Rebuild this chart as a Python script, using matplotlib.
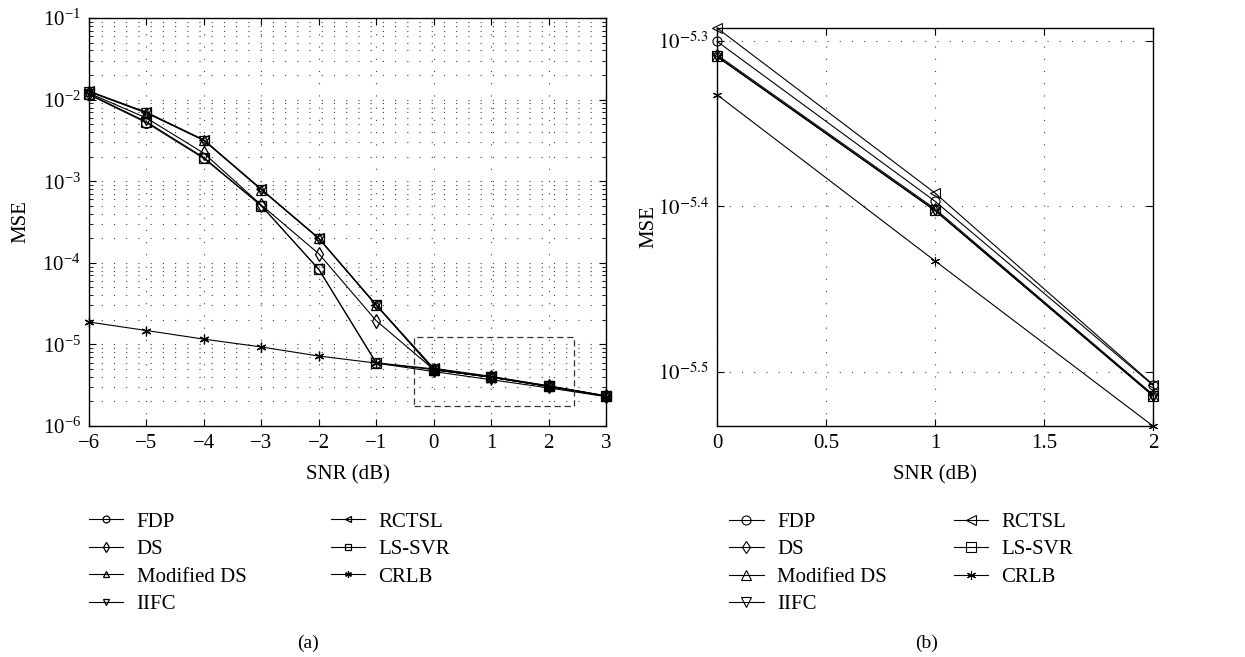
import matplotlib
matplotlib.use("Agg")
import matplotlib.pyplot as plt
import numpy as np

plt.rcParams["font.family"] = ["Liberation Serif", "DejaVu Serif"]
plt.rcParams["mathtext.fontset"] = "stix"
plt.rcParams["font.size"] = 15

# ── Data (MSE vs SNR) ───────────────────────────────────────────────────────
snr = [-6, -5, -4, -3, -2, -1, 0, 1, 2, 3]

fdp      = [1.15e-2, 5.2e-3, 1.9e-3, 5.0e-4, 8.3e-5, 5.95e-6, 5.007e-6, 4.009e-6, 3.104e-6, 2.34e-6]
ds       = [1.20e-2, 5.95e-3, 2.2e-3, 5.1e-4, 1.29e-4, 1.95e-5, 4.914e-6, 3.967e-6, 3.064e-6, 2.32e-6]
mod_ds   = [1.26e-2, 6.9e-3, 3.2e-3, 7.9e-4, 2.0e-4, 3.04e-5, 4.903e-6, 3.958e-6, 3.059e-6, 2.32e-6]
iifc     = [1.25e-2, 6.85e-3, 3.15e-3, 7.85e-4, 1.98e-4, 3.0e-5, 4.903e-6, 3.958e-6, 3.059e-6, 2.32e-6]
rctsl    = [1.27e-2, 7.0e-3, 3.2e-3, 8.0e-4, 2.0e-4, 3.05e-5, 5.101e-6, 4.055e-6, 3.107e-6, 2.34e-6]
ls_svr   = [1.17e-2, 5.35e-3, 1.95e-3, 5.0e-4, 8.3e-5, 5.9e-6, 4.903e-6, 3.958e-6, 3.059e-6, 2.32e-6]
crlb     = [1.88e-5, 1.48e-5, 1.16e-5, 9.3e-6, 7.2e-6, 5.9e-6, 4.649e-6, 3.690e-6, 2.933e-6, 2.29e-6]

series = [
    ("FDP",         fdp,    "o"),
    ("DS",          ds,     "d"),
    ("Modified DS", mod_ds, "^"),
    ("IIFC",        iifc,   "v"),
    ("RCTSL",       rctsl,  "<"),
    ("LS-SVR",      ls_svr, "s"),
    ("CRLB",        crlb,   (6, 2, 0)),
]

# zoomed region marked on panel (a)
zoom_box_x = [-0.35, 2.45]
zoom_box_y = [1.76e-6, 1.22e-5]

grid_kw = dict(color="0.25", ls=(0, (1, 10)), lw=0.8)

fig = plt.figure(figsize=(12.45, 6.57), dpi=100)
ax1 = fig.add_axes([0.0715, 0.3516, 0.4153, 0.621])
ax2 = fig.add_axes([0.5759, 0.3516, 0.3502, 0.6058])

# ── Panel (a) ───────────────────────────────────────────────────────────────
for name, vals, mk in series:
    ax1.plot(snr, vals, color="black", lw=0.8, marker=mk, ms=7,
             mfc="none", mec="black", mew=0.9, label=name, clip_on=False)

ax1.plot([zoom_box_x[0], zoom_box_x[1], zoom_box_x[1], zoom_box_x[0], zoom_box_x[0]],
         [zoom_box_y[0], zoom_box_y[0], zoom_box_y[1], zoom_box_y[1], zoom_box_y[0]],
         color="0.2", ls=(0, (5, 3)), lw=0.9)

ax1.set_yscale("log")
ax1.set_xlim(-6, 3)
ax1.set_ylim(1e-6, 1e-1)
ax1.set_xticks(range(-6, 4))
ax1.set_xticklabels([str(v).replace("-", "\u2212") for v in range(-6, 4)])
ax1.grid(True, which="major", axis="x", **grid_kw)
ax1.grid(True, which="both", axis="y", **grid_kw)
ax1.set_xlabel("SNR (dB)")
ax1.set_ylabel("MSE")
ax1.xaxis.set_label_coords(0.5, -0.095)
ax1.yaxis.set_label_coords(-0.114, 0.5)

ax1.legend(ncol=2, frameon=False, loc="upper left",
           bbox_to_anchor=(-0.037, -0.165), handlelength=1.65,
           handletextpad=0.65, labelspacing=0.38, columnspacing=4.05,
           markerscale=0.7, fontsize=15)

# ── Panel (b): zoom on 0–2 dB ───────────────────────────────────────────────
sel = [i for i, s in enumerate(snr) if 0 <= s <= 2]
x_zoom = [snr[i] for i in sel]
all_zoom = []
for name, vals, mk in series:
    y_zoom = [vals[i] for i in sel]
    all_zoom += y_zoom
    ax2.plot(x_zoom, y_zoom, color="black", lw=0.8, marker=mk, ms=6.5,
             mfc="none", mec="black", mew=0.8, label=name, clip_on=False)

ax2.set_yscale("log")
ax2.set_xlim(0, 2)
ax2.set_ylim(min(all_zoom), max(all_zoom))
ax2.set_xticks([0, 0.5, 1, 1.5, 2])
ax2.set_xticklabels(["0", "0.5", "1", "1.5", "2"])
ax2.minorticks_off()
ax2.set_yticks([10 ** -5.3, 10 ** -5.4, 10 ** -5.5])
ax2.set_yticklabels([r"$10^{-5.3}$", r"$10^{-5.4}$", r"$10^{-5.5}$"])
ax2.yaxis.set_minor_locator(matplotlib.ticker.NullLocator())
ax2.grid(True, which="major", **grid_kw)
ax2.set_xlabel("SNR (dB)")
ax2.set_ylabel("MSE")
ax2.xaxis.set_label_coords(0.5, -0.098)
ax2.yaxis.set_label_coords(-0.135, 0.5)

ax2.legend(ncol=2, frameon=False, loc="upper left",
           bbox_to_anchor=(-0.015, -0.17), handlelength=1.65,
           handletextpad=0.65, labelspacing=0.38, columnspacing=3.2,
           fontsize=15)

for ax in (ax1, ax2):
    for sp in ax.spines.values():
        sp.set_linewidth(1.0)
    ax.tick_params(which="both", direction="in", top=True, right=True,
                   labelsize=15, pad=6)
    ax.tick_params(which="major", length=5)
    ax.tick_params(which="minor", length=3)
    ax.set_axisbelow(True)

fig.text(308 / 1245, 1 - 643 / 657, "(a)", ha="center", va="center", fontsize=14)
fig.text(927 / 1245, 1 - 643 / 657, "(b)", ha="center", va="center", fontsize=14)

fig.savefig("out.png", dpi=100)
